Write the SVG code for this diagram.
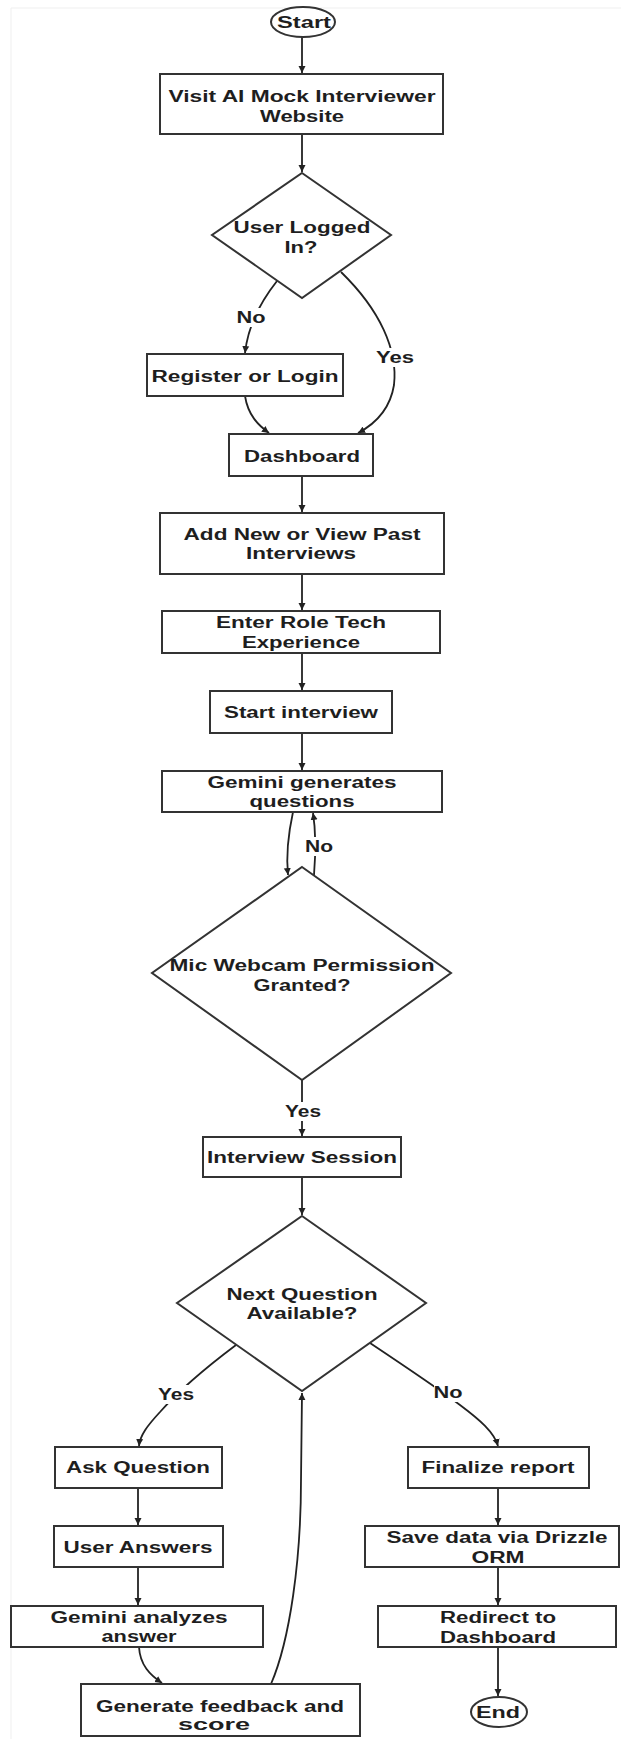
<svg xmlns="http://www.w3.org/2000/svg" width="621" height="1739" viewBox="0 0 621 1739">
<style>
.box{fill:#fff;stroke:#333;stroke-width:2}
.t{font-family:"Liberation Sans",Arial,sans-serif;font-weight:bold;font-size:16px;fill:#1e1e1e;text-anchor:middle}
.c{fill:none;stroke:#222;stroke-width:1.8}
.lb{fill:#fff}
</style>
<defs>
<marker id="ah" markerWidth="8" markerHeight="8" refX="7" refY="4" orient="auto" markerUnits="userSpaceOnUse">
<path d="M0,0.5 L7,4 L0,7.5 Z" fill="#222"/>
</marker>
</defs>
<rect width="621" height="1739" fill="#fff"/>
<path d="M11 8 L621 8 M11 8 L11 1739" stroke="#efefef" stroke-width="1" fill="none"/>

<g id="connectors">
<path class="c" d="M302 37 L302 73" marker-end="url(#ah)"/>
<path class="c" d="M302 134 L302 172" marker-end="url(#ah)"/>
<path class="c" d="M277 281 C262 300 248 325 245 353" marker-end="url(#ah)"/>
<path class="c" d="M341 272 C380 310 398 350 394 385 C390 410 375 424 358 433" marker-end="url(#ah)"/>
<path class="c" d="M245 396 C248 415 258 425 269 433" marker-end="url(#ah)"/>
<path class="c" d="M302 476 L302 512" marker-end="url(#ah)"/>
<path class="c" d="M302 574 L302 610" marker-end="url(#ah)"/>
<path class="c" d="M302 653 L302 690" marker-end="url(#ah)"/>
<path class="c" d="M302 733 L302 770" marker-end="url(#ah)"/>
<path class="c" d="M293 812 C288 835 286 855 288 875" marker-end="url(#ah)"/>
<path class="c" d="M314 875 C316 850 316 832 313 813" marker-end="url(#ah)"/>
<path class="c" d="M302 1080 L302 1136" marker-end="url(#ah)"/>
<path class="c" d="M302 1177 L302 1215" marker-end="url(#ah)"/>
<path class="c" d="M236 1345 C200 1372 175 1395 160 1412 C148 1425 140 1435 139 1446" marker-end="url(#ah)"/>
<path class="c" d="M370 1343 C400 1363 440 1390 460 1405 C480 1420 494 1432 498 1446" marker-end="url(#ah)"/>
<path class="c" d="M138 1488 L138 1525" marker-end="url(#ah)"/>
<path class="c" d="M138 1567 L138 1605" marker-end="url(#ah)"/>
<path class="c" d="M139 1647 C140 1665 150 1675 162 1683" marker-end="url(#ah)"/>
<path class="c" d="M271 1684 C290 1640 301 1560 301 1480 L302 1393" marker-end="url(#ah)"/>
<path class="c" d="M498 1488 L498 1525" marker-end="url(#ah)"/>
<path class="c" d="M498 1567 L498 1605" marker-end="url(#ah)"/>
<path class="c" d="M498 1647 L498 1696" marker-end="url(#ah)"/>
<rect class="lb" x="237" y="308" width="29" height="19"/>
<text class="t" x="251" y="323" textLength="29" lengthAdjust="spacingAndGlyphs">No</text>
<rect class="lb" x="376" y="348" width="38" height="19"/>
<text class="t" x="395" y="363" textLength="38" lengthAdjust="spacingAndGlyphs">Yes</text>
<rect class="lb" x="305" y="837" width="28" height="19"/>
<text class="t" x="319" y="852" textLength="28" lengthAdjust="spacingAndGlyphs">No</text>
<rect class="lb" x="285" y="1102" width="36" height="19"/>
<text class="t" x="303" y="1117" textLength="36" lengthAdjust="spacingAndGlyphs">Yes</text>
<rect class="lb" x="158" y="1385" width="36" height="19"/>
<text class="t" x="176" y="1400" textLength="36" lengthAdjust="spacingAndGlyphs">Yes</text>
<rect class="lb" x="434" y="1383" width="29" height="19"/>
<text class="t" x="448" y="1398" textLength="29" lengthAdjust="spacingAndGlyphs">No</text>
</g>

<g id="start">
<ellipse class="box" cx="303" cy="22" rx="32" ry="15"/>
<text class="t" x="304" y="28" font-size="17" textLength="54" lengthAdjust="spacingAndGlyphs">Start</text>
</g>
<g id="visit">
<rect class="box" x="160" y="74" width="283" height="60"/>
<text class="t" x="302" y="102" textLength="267" lengthAdjust="spacingAndGlyphs">Visit AI Mock Interviewer</text>
<text class="t" x="302" y="122" textLength="84" lengthAdjust="spacingAndGlyphs">Website</text>
</g>
<g id="logged">
<polygon class="box" points="302,173 391,235 302,298 212,235"/>
<text class="t" x="302" y="233" textLength="137" lengthAdjust="spacingAndGlyphs">User Logged</text>
<text class="t" x="301" y="253" textLength="33" lengthAdjust="spacingAndGlyphs">In?</text>
</g>
<g id="register">
<rect class="box" x="147" y="354" width="196" height="42"/>
<text class="t" x="245" y="382" textLength="187" lengthAdjust="spacingAndGlyphs">Register or Login</text>
</g>
<g id="dashboard">
<rect class="box" x="229" y="434" width="144" height="42"/>
<text class="t" x="302" y="462" textLength="116" lengthAdjust="spacingAndGlyphs">Dashboard</text>
</g>
<g id="addnew">
<rect class="box" x="160" y="513" width="284" height="61"/>
<text class="t" x="302" y="540" textLength="237" lengthAdjust="spacingAndGlyphs">Add New or View Past</text>
<text class="t" x="301" y="559" textLength="110" lengthAdjust="spacingAndGlyphs">Interviews</text>
</g>
<g id="enterrole">
<rect class="box" x="162" y="611" width="278" height="42"/>
<text class="t" x="301" y="628" textLength="170" lengthAdjust="spacingAndGlyphs">Enter Role Tech</text>
<text class="t" x="301" y="648" textLength="118" lengthAdjust="spacingAndGlyphs">Experience</text>
</g>
<g id="startinterview">
<rect class="box" x="210" y="691" width="182" height="42"/>
<text class="t" x="301" y="718" textLength="154" lengthAdjust="spacingAndGlyphs">Start interview</text>
</g>
<g id="geminigen">
<rect class="box" x="162" y="771" width="280" height="41"/>
<text class="t" x="302" y="788" textLength="189" lengthAdjust="spacingAndGlyphs">Gemini generates</text>
<text class="t" x="302" y="807" textLength="105" lengthAdjust="spacingAndGlyphs">questions</text>
</g>
<g id="permission">
<polygon class="box" points="302,867 451,973 302,1080 152,973"/>
<text class="t" x="302" y="971" textLength="265" lengthAdjust="spacingAndGlyphs">Mic Webcam Permission</text>
<text class="t" x="302" y="991" textLength="97" lengthAdjust="spacingAndGlyphs">Granted?</text>
</g>
<g id="session">
<rect class="box" x="203" y="1137" width="198" height="40"/>
<text class="t" x="302" y="1163" textLength="190" lengthAdjust="spacingAndGlyphs">Interview Session</text>
</g>
<g id="nextq">
<polygon class="box" points="302,1216 426,1303 302,1391 177,1303"/>
<text class="t" x="302" y="1300" textLength="151" lengthAdjust="spacingAndGlyphs">Next Question</text>
<text class="t" x="302" y="1319" textLength="111" lengthAdjust="spacingAndGlyphs">Available?</text>
</g>
<g id="ask">
<rect class="box" x="55" y="1447" width="167" height="41"/>
<text class="t" x="138" y="1473" textLength="144" lengthAdjust="spacingAndGlyphs">Ask Question</text>
</g>
<g id="answers">
<rect class="box" x="54" y="1526" width="169" height="41"/>
<text class="t" x="138" y="1553" textLength="149" lengthAdjust="spacingAndGlyphs">User Answers</text>
</g>
<g id="analyzes">
<rect class="box" x="11" y="1606" width="252" height="41"/>
<text class="t" x="139" y="1623" textLength="177" lengthAdjust="spacingAndGlyphs">Gemini analyzes</text>
<text class="t" x="139" y="1642" textLength="75" lengthAdjust="spacingAndGlyphs">answer</text>
</g>
<g id="feedback">
<rect class="box" x="81" y="1684" width="279" height="52"/>
<text class="t" x="220" y="1712" textLength="248" lengthAdjust="spacingAndGlyphs">Generate feedback and</text>
<text class="t" x="214" y="1730" textLength="72" lengthAdjust="spacingAndGlyphs">score</text>
</g>
<g id="finalize">
<rect class="box" x="408" y="1447" width="181" height="41"/>
<text class="t" x="498" y="1473" textLength="153" lengthAdjust="spacingAndGlyphs">Finalize report</text>
</g>
<g id="save">
<rect class="box" x="365" y="1526" width="254" height="41"/>
<text class="t" x="497" y="1543" textLength="221" lengthAdjust="spacingAndGlyphs">Save data via Drizzle</text>
<text class="t" x="498" y="1563" textLength="53" lengthAdjust="spacingAndGlyphs">ORM</text>
</g>
<g id="redirect">
<rect class="box" x="378" y="1606" width="238" height="41"/>
<text class="t" x="498" y="1623" textLength="116" lengthAdjust="spacingAndGlyphs">Redirect to</text>
<text class="t" x="498" y="1643" textLength="116" lengthAdjust="spacingAndGlyphs">Dashboard</text>
</g>
<g id="end">
<ellipse class="box" cx="499" cy="1712" rx="28" ry="15"/>
<text class="t" x="498" y="1718" textLength="44" lengthAdjust="spacingAndGlyphs">End</text>
</g>
</svg>
